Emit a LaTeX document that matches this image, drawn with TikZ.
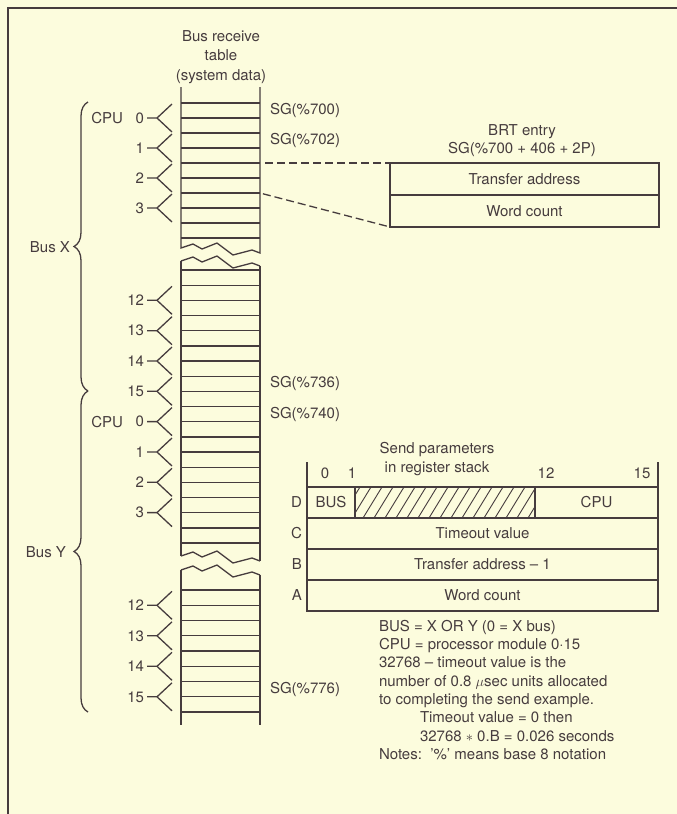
\documentclass[tikz,border=0pt]{standalone}
\usepackage{fontspec}
\setmainfont{TeX Gyre Heros}
\usetikzlibrary{decorations.pathreplacing}
\definecolor{BRTPaper}{RGB}{252, 252, 221}
\definecolor{BRTInk}{RGB}{70, 60, 62}
% torn edge of the table column, #1 = base height
\newcommand{\tearpath}[1]{(181,#1) -- (193,{#1-4}) -- (202,{#1+1}) -- (217,{#1-5}) -- (233,{#1+7}) -- (252,{#1+2}) -- (260,{#1+5})}

\begin{document}
\begin{tikzpicture}[
  x=1pt, y=-1pt,
  color=BRTInk,
  line width=1.3pt,
  every node/.style={font=\fontsize{15}{18}\selectfont, inner sep=0pt, outer sep=0pt},
  field/.style={draw=BRTInk, line width=1.3pt, minimum height=31pt, align=center},
  brtfield/.style={draw=BRTInk, line width=1.3pt, minimum width=269pt, minimum height=32pt},
  link/.style={line width=1.3pt, dash pattern=on 8pt off 4pt},
  busbrace/.style={decorate, decoration={brace, amplitude=14pt}, line width=1.3pt}
]
  \fill[BRTPaper] (0,0) rectangle (677,814);
  \useasboundingbox (0,0) rectangle (677,814);
  \draw[line width=1.8pt] (8,814) -- (8,8) -- (677,8);

  %% Bus receive table
  \node[align=center, font=\fontsize{15}{19.5}\selectfont] (brtable) at (221,57)
    {Bus receive\\table\\(system data)};
  \draw (181,87) -- \tearpath{248} -- (260,87);
  \draw \tearpath{261};
  \draw \tearpath{556};
  \draw \tearpath{570};
  \draw (181,261) -- (181,556);
  \draw (260,266) -- (260,561);
  \draw (181,570) -- (181,725);
  \draw (260,575) -- (260,725);
  \foreach \k in {0,...,9}
    \draw (181,{103+15*\k}) -- (260,{103+15*\k});
  \foreach \k in {0,...,18}
    \draw (181,{270+15.17*\k}) -- (260,{270+15.17*\k});
  \foreach \k in {0,...,8}
    \draw (181,{590+15.25*\k}) -- (260,{590+15.25*\k});

  %% CPU brackets
  \foreach \n/\yc [count=\i] in {0/118, 1/148, 2/178, 3/208,
      12/300.3, 13/330.7, 14/361, 15/391.3, 0/421.6, 1/452, 2/482.3, 3/512.6,
      12/605.3, 13/635.8, 14/666.3, 15/696.8}
  {
    \draw (147,\yc) -- (157,\yc) -- (172,{\yc-14});
    \draw (157,\yc) -- (172,{\yc+14});
    \node[anchor=east] (cpu\i) at (144,\yc) {\n};
  }
  \node[anchor=east] (cpuX) at (123,118) {CPU};
  \node[anchor=east] (cpuY) at (123,421.6) {CPU};

  %% Bus braces
  \draw[busbrace] (88,391) -- (88,102);
  \draw[busbrace] (88,712) -- (88,391);
  \node[anchor=east] (busX) at (70,247) {Bus X};
  \node[anchor=east] (busY) at (66,552) {Bus Y};

  %% SG addresses
  \node[anchor=west] (sg700) at (270,110.5) {SG(\%700)};
  \node[anchor=west] (sg702) at (270,140.5) {SG(\%702)};
  \node[anchor=west] (sg736) at (270,383.6) {SG(\%736)};
  \node[anchor=west] (sg740) at (270,414) {SG(\%740)};
  \node[anchor=west] (sg776) at (270,689) {SG(\%776)};

  %% BRT entry
  \node[align=center] (brttitle) at (522,141) {BRT entry\\SG(\%700 + 406 + 2P)};
  \node[brtfield] (brtaddr)  at (524.5,179) {Transfer address};
  \node[brtfield] (brtcount) at (524.5,211) {Word count};
  \coordinate (cpu2top) at (260,163);
  \coordinate (cpu2bot) at (260,193);
  \draw[link, shorten <=5pt] (cpu2top) -- (brtaddr.north west);
  \draw[link, shorten <=3pt] (cpu2bot) -- (brtcount.south west);

  %% Register stack
  \node[align=center, font=\fontsize{15}{19}\selectfont] (stacktitle) at (437,459)
    {Send parameters\\in register stack};
  \foreach \b/\bx in {0/325, 1/352, 12/546, 15/642}
    \node (bit\b) at (\bx,473) {\b};
  \node[field, minimum width=48pt]  (regBUS) at (331,502.5)   {BUS};
  \node[field, minimum width=180pt] (regpad) at (445,502.5)   {};
  \node[field, minimum width=123pt] (regCPU) at (596.5,502.5) {CPU};
  \node[field, minimum width=351pt] (regC)   at (482.5,533.5) {Timeout value};
  \node[field, minimum width=351pt] (regB)   at (482.5,564.5) {Transfer address -- 1};
  \node[field, minimum width=351pt] (regA)   at (482.5,595.5) {Word count};
  \begin{scope}
    \clip (regpad.south west) rectangle (regpad.north east);
    \foreach \hx in {330,341,...,540}
      \draw[line width=0.9pt] (\hx,518) -- ({\hx+19},487);
  \end{scope}
  \draw (regBUS.north west) -- ++(0,-25);
  \draw (regCPU.north east) -- ++(0,-25);
  \node[anchor=east] (rowD) at (302,502.5) {D};
  \node[anchor=east] (rowC) at (302,533.5) {C};
  \node[anchor=east] (rowB) at (302,564.5) {B};
  \node[anchor=east] (rowA) at (302,595.5) {A};

  %% Notes
  \node[anchor=north west, align=left, font=\fontsize{15}{18.3}\selectfont] (notes) at (379,620)
    {BUS = X OR Y (0 = X bus)\\
     CPU = processor module 0·15\\
     32768 -- timeout value is the\\
     number of 0.8 $\mu$sec units allocated\\
     to completing the send example.\\
     \hspace*{41pt}Timeout value = 0 then\\
     \hspace*{41pt}32768 $\ast$ 0.B = 0.026 seconds\\
     Notes:\ \ '\%' means base 8 notation};
\end{tikzpicture}
\end{document}
